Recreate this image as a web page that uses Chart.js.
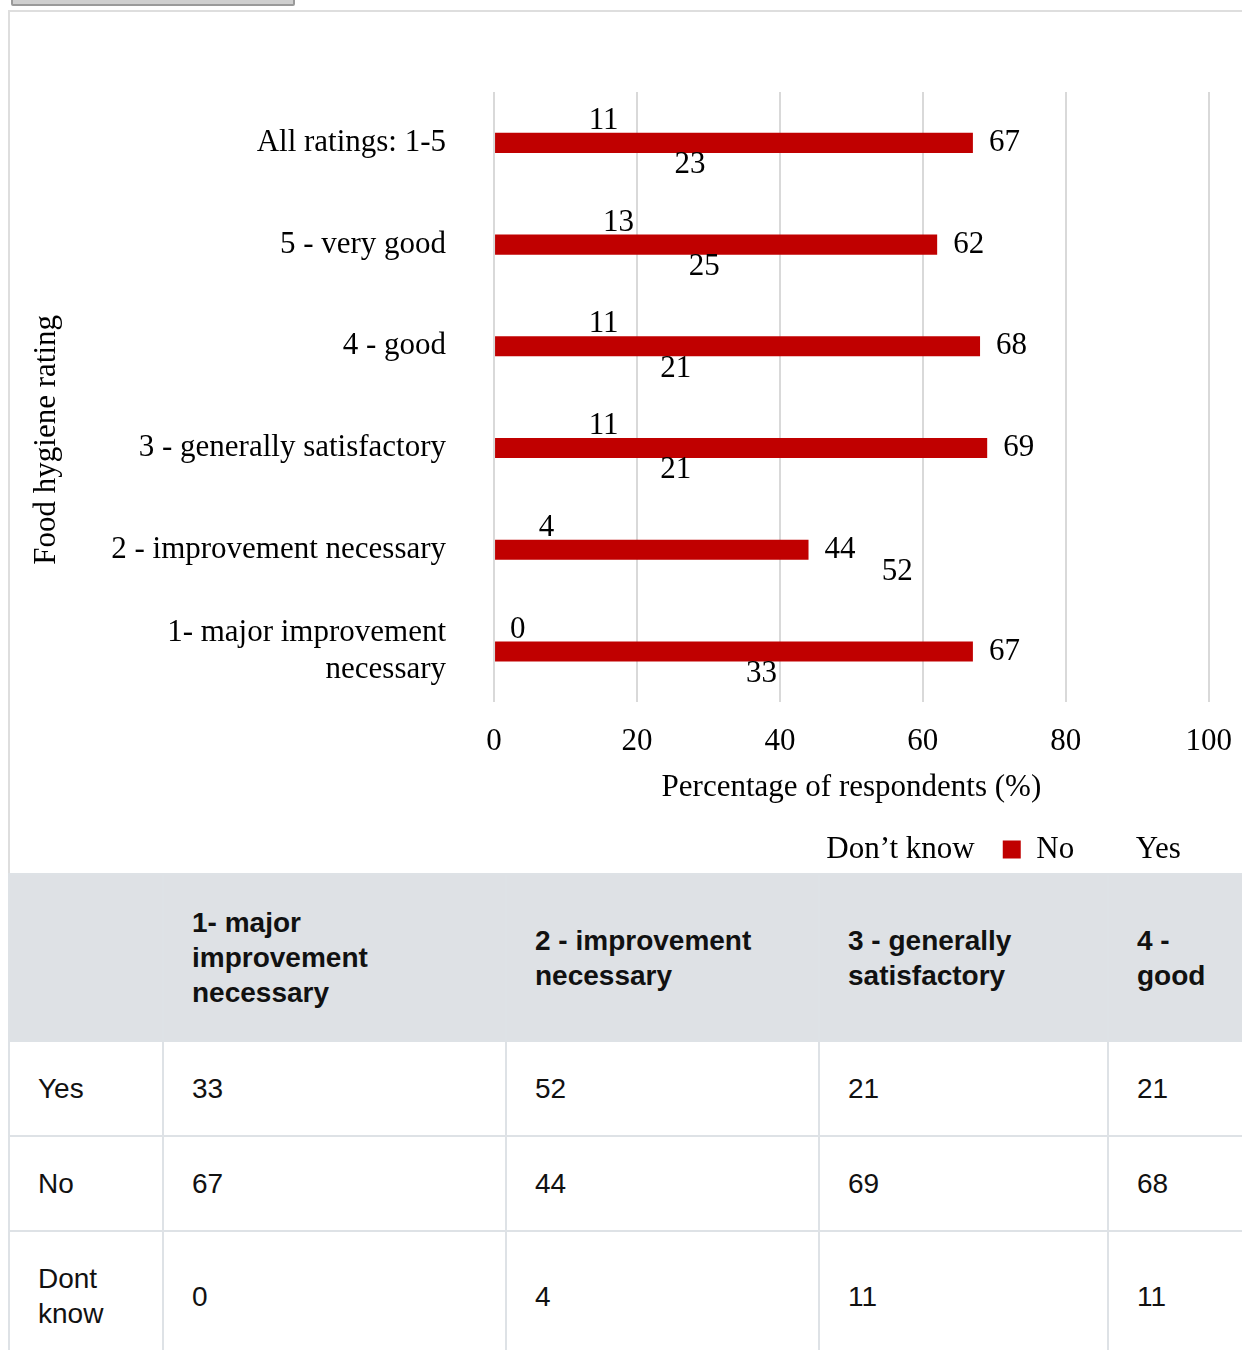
<!DOCTYPE html>
<html>
<head>
<meta charset="utf-8">
<script src="https://cdn.jsdelivr.net/npm/chart.js@4.4.1/dist/chart.umd.min.js"></script>
<style>
  html, body { margin: 0; padding: 0; background: #fff; overflow: hidden; }
  body { position: relative; width: 1242px; height: 1350px; }
  .btn { position: absolute; left: 11px; top: -30px; width: 280px; height: 32px; background: #cfcfcf; border: 2px solid #9a9a9a; border-radius: 2px; }
  .frame { position: absolute; left: 8px; top: 10px; width: 1400px; height: 861px; border-top: 2px solid #dedede; border-left: 2px solid #dedede; }
  .chart-box { position: absolute; left: 10px; top: 12px; width: 1243px; height: 863px; }
  table { position: absolute; left: 8px; top: 873px; border-collapse: collapse; table-layout: fixed; width: 1689px;
          font-family: "Liberation Sans", Arial, sans-serif; font-size: 28px; line-height: 35px; color: #111; z-index: 2; background: #fff; }
  th, td { border: 2px solid #dee2e6; padding: 29px 28px; text-align: left; vertical-align: middle; }
  th { background: #dee1e5; font-weight: bold; padding: 30px 28px; }
</style>
</head>
<body>
<div class="btn"></div>
<div class="frame"></div>
<div class="chart-box"><canvas id="myChart"></canvas></div>
<table id="dataTable">
  <colgroup>
    <col style="width:154px"><col style="width:343px"><col style="width:313px"><col style="width:289px">
    <col style="width:160px"><col style="width:200px"><col style="width:230px">
  </colgroup>
  <thead><tr id="headRow"><th></th></tr></thead>
  <tbody id="tableBody"></tbody>
</table>
<script>
// categories, top to bottom as in the chart
const categories = [
    'All ratings: 1-5',
    '5 - very good',
    '4 - good',
    '3 - generally satisfactory',
    '2 - improvement necessary',
    ['1- major improvement', 'necessary']
];
const dontKnow = [11, 13, 11, 11, 4, 0];
const no = [67, 62, 68, 69, 44, 67];
const yes = [23, 25, 21, 21, 52, 33];
const xTicks = [0, 20, 40, 60, 80, 100];

// table columns (left to right)
const tableCols = ['1- major improvement necessary', '2 - improvement necessary', '3 - generally satisfactory', '4 - good', '5 - very good', 'All ratings: 1-5'];
const tableRows = [
    ['Yes', [33, 52, 21, 21, 25, 23]],
    ['No', [67, 44, 69, 68, 62, 67]],
    ['Dont know', [0, 4, 11, 11, 13, 11]]
];

const serif = '"Liberation Serif", "Times New Roman", serif';

// labels at the end of every bar (also the invisible ones)
const valueLabels = {
    id: 'valueLabels',
    afterDatasetsDraw(chart) {
        const ctx = chart.ctx;
        ctx.save();
        ctx.font = '31px ' + serif;
        ctx.fillStyle = '#000';
        ctx.textAlign = 'left';
        ctx.textBaseline = 'middle';
        chart.data.datasets.forEach((ds, i) => {
            chart.getDatasetMeta(i).data.forEach((bar, j) => {
                ctx.fillText(ds.data[j], bar.x + 16, bar.y);
            });
        });
        ctx.restore();
    }
};

Chart.defaults.color = '#000';
Chart.defaults.font.family = serif;
Chart.defaults.font.size = 31;

// trailing no-break spaces push the axis title a bit lower, as in the original
const yTitle = 'Food hygiene rating' + '\u00a0'.repeat(11);

new Chart(document.getElementById('myChart'), {
    type: 'bar',
    data: {
        labels: categories,
        datasets: [
            { label: 'Don\u2019t know', data: dontKnow, backgroundColor: 'rgba(0,0,0,0)', borderWidth: 0 },
            { label: 'No', data: no, backgroundColor: '#c00000', borderWidth: 0 },
            { label: 'Yes', data: yes, backgroundColor: 'rgba(0,0,0,0)', borderWidth: 0 }
        ]
    },
    options: {
        indexAxis: 'y',
        responsive: true,
        maintainAspectRatio: false,
        animation: false,
        datasets: { bar: { categoryPercentage: 0.65, barPercentage: 0.91 } },
        layout: { padding: { top: 80, left: 12, right: 0, bottom: 0 } },
        scales: {
            x: {
                min: 0,
                max: 100,
                afterBuildTicks: (axis) => { axis.ticks = xTicks.map(v => ({ value: v })); },
                grid: { color: '#d9d9d9', lineWidth: 2, drawTicks: false },
                border: { display: false },
                ticks: { padding: 21, font: { size: 31 } },
                title: { display: true, text: 'Percentage of respondents (%)', font: { size: 31, lineHeight: 0.4 }, padding: { top: 0, bottom: 12 } }
            },
            y: {
                grid: { display: false },
                border: { display: false },
                ticks: { padding: 40, font: { size: 31 } },
                title: { display: true, text: yTitle, font: { size: 31 }, padding: { top: 6, bottom: 6 } }
            }
        },
        plugins: {
            legend: {
                position: 'bottom',
                fullSize: false,
                align: 'end',
                labels: { boxWidth: 18, boxHeight: 18, padding: 28, font: { size: 31 } }
            },
            tooltip: { enabled: false }
        }
    },
    plugins: [valueLabels]
});

// build the table under the chart
const headRow = document.getElementById('headRow');
tableCols.forEach(c => {
    const th = document.createElement('th');
    th.textContent = c;
    headRow.appendChild(th);
});
const tbody = document.getElementById('tableBody');
tableRows.forEach(([name, vals]) => {
    const tr = document.createElement('tr');
    const first = document.createElement('td');
    first.textContent = name;
    tr.appendChild(first);
    vals.forEach(v => {
        const td = document.createElement('td');
        td.textContent = v;
        tr.appendChild(td);
    });
    tbody.appendChild(tr);
});
</script>
</body>
</html>
